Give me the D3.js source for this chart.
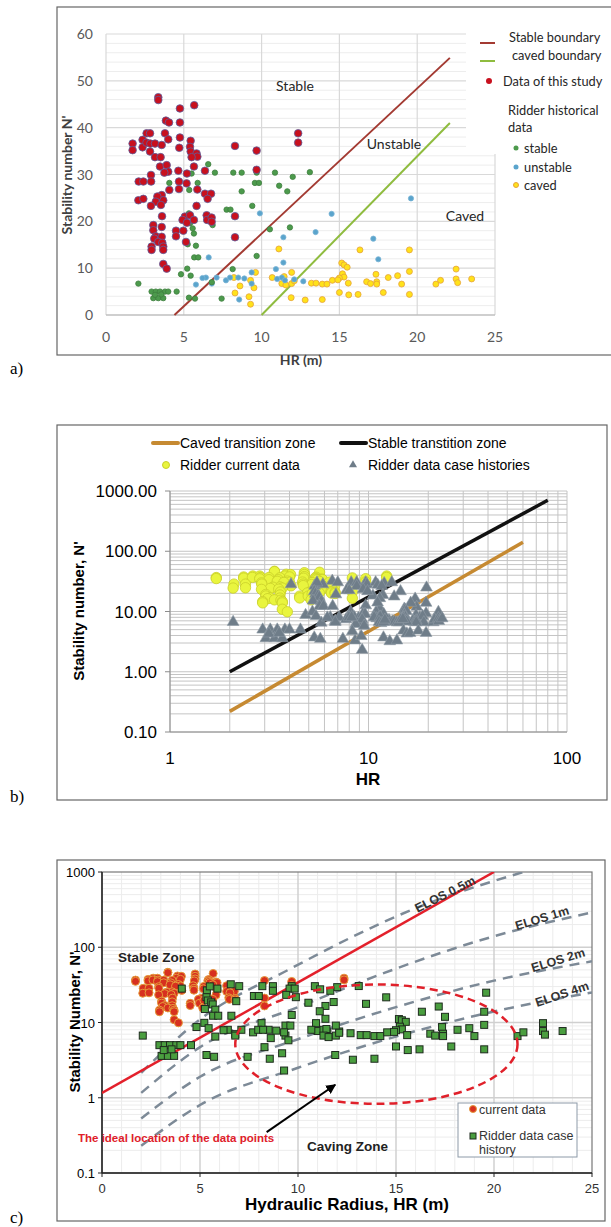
<!doctype html>
<html lang="en">
<head>
<meta charset="utf-8">
<title>Stability graph: three versions</title>
<script src="https://d3js.org/d3.v7.min.js"></script>
<style>
body { margin: 0; background: #fff; }
svg { display: block; }
</style>
</head>
<body>
<script>

// ---- data (HR in m, stability number N') ----
const currentData = [
  [3.36,46.5],[3.36,45.9],[4.75,44.1],[5.67,44.8],[3.85,41.5],[4.05,41.1],[4.75,41.1],
  [2.61,38.8],[2.83,38.8],[3.79,38.8],[1.71,36.6],[1.71,35.2],[2.35,37.4],[2.35,35.8],
  [2.6,36.8],[2.85,36.6],[3.15,36.6],[3.58,36.3],[4.0,37.5],[4.75,37.9],[5.44,37.2],
  [4.71,35.7],[2.83,34.9],[3.15,33.7],[3.51,33.7],[5.4,35.9],[5.44,34.9],[5.82,34.5],
  [5.87,33.8],[5.5,33.7],[3.47,31.7],[3.9,32.0],[4.0,30.6],[3.75,30.4],[5.65,31.7],
  [4.65,30.8],[5.2,30.2],[6.36,30.8],[8.29,36.1],[9.68,35.1],[9.68,31.0],[2.89,29.9],
  [2.1,28.5],[2.4,28.5],[2.9,28.5],[4.69,28.5],[5.18,28.1],[5.87,26.8],[4.07,26.7],
  [4.69,26.9],[6.36,25.9],[6.75,25.9],[6.53,24.8],[3.58,25.6],[3.68,24.5],[3.3,25.3],
  [3.2,24.2],[2.08,24.5],[2.4,24.8],[3.53,23.5],[2.89,23.3],[5.82,23.3],[3.6,21.1],
  [5.07,21.0],[4.92,20.3],[5.4,21.3],[5.65,20.3],[6.47,21.3],[6.5,20.3],[6.79,20.8],
  [6.79,19.9],[8.29,21.1],[3.04,19.2],[3.04,18.1],[3.2,16.8],[3.1,16.3],[3.58,18.8],
  [3.58,16.7],[4.5,18.0],[4.5,16.8],[4.97,18.0],[5.2,19.7],[3.36,15.6],[3.62,15.4],
  [5.14,15.6],[8.29,16.6],[2.93,14.6],[2.93,13.9],[3.68,14.6],[3.68,13.9],[3.68,10.9],
  [3.9,9.9],[12.35,38.8],[12.35,36.8]
];

const ridderStable = [
  [6.57,32.2],[7.0,30.4],[8.18,30.4],[8.72,30.4],[9.68,30.4],[9.57,28.2],[9.83,28.2],
  [10.86,30.4],[12.0,29.5],[11.13,27.6],[11.65,26.4],[13.1,30.5],[8.72,26.4],[4.07,28.2],
  [5.35,26.7],[5.89,28.2],[5.5,30.2],[7.75,22.5],[8.0,22.5],[9.4,23.3],[5.33,21.7],
  [5.4,19.6],[5.57,18.5],[5.65,17.4],[6.85,19.2],[5.25,15.1],[5.78,14.8],[5.67,12.3],
  [5.93,12.3],[9.68,12.6],[10.53,18.3],[11.82,18.7],[4.82,8.7],[5.22,9.9],[5.44,8.4],
  [2.08,6.7],[4.54,5.0],[8.14,9.8],[2.93,5.0],[3.2,5.0],[3.47,5.0],[3.79,5.0],[4.0,5.0],
  [3.04,3.6],[3.36,3.6],[3.68,3.6],[3.15,4.3],[3.55,4.4],[5.33,3.7],[5.72,3.5],[7.43,3.5],
  [6.8,7.0]
];

const ridderUnstable = [
  [9.89,21.7],[11.4,16.6],[11.4,11.2],[10.92,9.8],[6.6,12.3],[5.78,6.5],[6.42,8.0],
  [7.11,8.0],[6.8,6.7],[7.71,7.4],[7.97,8.0],[8.5,8.0],[8.89,7.8],[9.36,9.1],[9.36,6.7],
  [8.56,3.3],[11.0,7.7],[11.3,8.0],[11.5,7.4],[19.6,24.9],[14.5,21.6],[13.47,17.7],
  [17.18,16.3],[17.5,11.9],[12.68,7.2],[12.1,7.6],[6.2,7.9]
];

const ridderCaved = [
  [16.32,13.9],[19.5,13.9],[22.5,9.8],[15.15,11.1],[15.3,10.7],[15.5,10.2],[15.2,8.8],
  [15.3,8.1],[15.0,7.9],[19.5,9.3],[17.35,8.7],[18.14,8.0],[18.74,8.4],[19.0,6.6],
  [16.75,7.1],[17.0,6.7],[17.4,7.1],[17.4,6.6],[15.57,6.8],[13.2,6.8],[13.5,6.8],
  [13.9,6.6],[14.2,6.6],[14.55,7.4],[14.9,7.5],[21.2,6.6],[21.5,7.4],[22.5,7.7],
  [22.6,6.9],[23.5,7.7],[15.0,4.8],[15.6,4.3],[16.2,4.4],[17.82,4.8],[19.5,4.4],
  [11.9,3.7],[12.8,3.2],[13.9,3.3],[11.11,14.1],[9.61,9.1],[9.29,7.4],[8.61,6.2],
  [9.51,5.8],[8.29,4.7],[9.19,3.9],[9.29,2.3],[8.22,8.0],[10.68,8.0],[11.93,9.1],
  [11.45,8.2],[11.3,6.7],[11.56,6.4],[11.93,6.7],[12.1,7.3]
];

// boundary lines
const stableBoundary = [[4.4,0],[22.1,54.9]];
const cavedBoundary = [[10,0],[22.1,41]];
const cavedTransition = [[2,0.22],[60,141]];
const stableTransition = [[2,1],[80,700]];
const stabilityLine = [[0,1.16],[20,1000]];
const elosCurves = [
  {label: "ELOS 0.5m", pts: [[2,2.15],[5,11],[9.5,50],[16,330],[21.5,1000]]},
  {label: "ELOS 1m", pts: [[2,1.16],[5,4.7],[10,16],[15,52],[20,140],[25,290]]},
  {label: "ELOS 2m", pts: [[2,0.53],[5,1.9],[10,6],[15,16],[20,36],[25,65]]},
  {label: "ELOS 4m", pts: [[2,0.23],[5,0.8],[10,2.5],[15,6.5],[20,14],[25,25]]}
];
const idealZoneHR = [6.8, 21.2];
const idealZoneN = [0.83, 32];
const arrowFrom = [8.4, 0.35];
const arrowTo = [11.9, 1.49];

const ridderAll = ridderStable.concat(ridderUnstable, ridderCaved);

const svg = d3.select("body").append("svg")
  .attr("width", 611).attr("height", 1227);

svg.append("rect").attr("width", 611).attr("height", 1227).attr("fill", "#fff");

// panel frames and letters
const frames = [
  {x: 57, y: 7, w: 570, h: 348},
  {x: 57, y: 425, w: 550, h: 375},
  {x: 57, y: 860, w: 548, h: 361}
];
svg.selectAll("rect.frame").data(frames).enter().append("rect")
  .attr("class", "frame")
  .attr("x", d => d.x).attr("y", d => d.y)
  .attr("width", d => d.w).attr("height", d => d.h)
  .attr("fill", "none").attr("stroke", "#666").attr("stroke-width", 1.2);

svg.selectAll("text.letter").data([["a)", 374], ["b)", 802], ["c)", 1223]]).enter()
  .append("text").attr("class", "letter")
  .attr("x", 10).attr("y", d => d[1])
  .style("font-family", "Liberation Serif").style("font-size", "17px")
  .text(d => d[0]);

// ================= panel a =================
(function () {
  const g = svg.append("g");
  const x = d3.scaleLinear().domain([0, 25]).range([106, 495]);
  const y = d3.scaleLinear().domain([0, 60]).range([315, 34]);
  const font = "Lato, 'Open Sans', sans-serif";

  // minor horizontal grid
  g.selectAll("line.hmin").data(d3.range(2, 60, 2).filter(v => v % 10 != 0)).enter()
    .append("line").attr("x1", x(0)).attr("x2", x(25))
    .attr("y1", d => y(d)).attr("y2", d => y(d))
    .attr("stroke", "#ededed").attr("stroke-width", 1);
  g.selectAll("line.hmaj").data(d3.range(10, 61, 10)).enter()
    .append("line").attr("x1", x(0)).attr("x2", x(25))
    .attr("y1", d => y(d)).attr("y2", d => y(d))
    .attr("stroke", "#d9d9d9").attr("stroke-width", 1.2);
  g.selectAll("line.vmaj").data(d3.range(0, 26, 5)).enter()
    .append("line").attr("y1", y(0)).attr("y2", y(60))
    .attr("x1", d => x(d)).attr("x2", d => x(d))
    .attr("stroke", "#d9d9d9").attr("stroke-width", 1.2);
  g.append("line").attr("x1", x(0)).attr("x2", x(25))
    .attr("y1", y(0)).attr("y2", y(0)).attr("stroke", "#bfbfbf").attr("stroke-width", 1.5);

  // ticks
  g.selectAll("text.yt").data(d3.range(0, 61, 10)).enter().append("text")
    .attr("x", 93).attr("y", d => y(d) + 5).attr("text-anchor", "end")
    .style("font-family", font).style("font-size", "14px").attr("fill", "#595959")
    .text(d => d);
  g.selectAll("text.xt").data(d3.range(0, 26, 5)).enter().append("text")
    .attr("x", d => x(d)).attr("y", 342).attr("text-anchor", "middle")
    .style("font-family", font).style("font-size", "14px").attr("fill", "#595959")
    .text(d => d);

  g.append("text").attr("transform", "translate(72,175) rotate(-90)")
    .attr("text-anchor", "middle")
    .style("font-family", font).style("font-size", "14px").style("font-weight", "bold")
    .attr("fill", "#404040").text("Stability number N'");
  g.append("text").attr("x", 301).attr("y", 365).attr("text-anchor", "middle")
    .style("font-family", font).style("font-size", "14px").style("font-weight", "bold")
    .attr("fill", "#404040").text("HR (m)");

  // boundary lines
  const line = d3.line().x(d => x(d[0])).y(d => y(d[1]));
  g.append("path").attr("d", line(stableBoundary)).attr("fill", "none")
    .attr("stroke", "#a33a32").attr("stroke-width", 2);
  g.append("path").attr("d", line(cavedBoundary)).attr("fill", "none")
    .attr("stroke", "#8fbc3f").attr("stroke-width", 2);

  // points
  const dots = (data, r, fill, stroke) => g.append("g").selectAll("circle").data(data).enter()
    .append("circle").attr("cx", d => x(d[0])).attr("cy", d => y(d[1])).attr("r", r)
    .attr("fill", fill).attr("stroke", stroke).attr("stroke-width", 0.8);
  dots(ridderCaved, 3, "#ffe21a", "#e6a23c");
  dots(ridderUnstable, 2.6, "#5aa4cc", "#7ab4d6");
  dots(ridderStable, 2.7, "#4c9a4c", "#3f7f3f");
  dots(currentData, 3.8, "#c8101e", "#5b5fa0");

  // zone labels
  const lab = [["Stable", 295, 91], ["Unstable", 394, 149], ["Caved", 465, 221]];
  g.selectAll("text.zone").data(lab).enter().append("text")
    .attr("x", d => d[1]).attr("y", d => d[2]).attr("text-anchor", "middle")
    .style("font-family", font).style("font-size", "14px").attr("fill", "#262626")
    .text(d => d[0]);

  // legend
  const lg = g.append("g");
  lg.append("rect").attr("x", 466).attr("y", 20).attr("width", 145).attr("height", 134).attr("fill", "#fff");
  lg.append("line").attr("x1", 480).attr("x2", 495).attr("y1", 43).attr("y2", 43)
    .attr("stroke", "#a33a32").attr("stroke-width", 2);
  lg.append("line").attr("x1", 480).attr("x2", 495).attr("y1", 61).attr("y2", 61)
    .attr("stroke", "#8fbc3f").attr("stroke-width", 2);
  lg.append("circle").attr("cx", 489).attr("cy", 81).attr("r", 3).attr("fill", "#c8101e");
  lg.append("circle").attr("cx", 516).attr("cy", 148).attr("r", 2.5).attr("fill", "#4c9a4c");
  lg.append("circle").attr("cx", 516).attr("cy", 167).attr("r", 2.5).attr("fill", "#5aa4cc");
  lg.append("circle").attr("cx", 516).attr("cy", 185).attr("r", 2.5).attr("fill", "#ffe21a").attr("stroke", "#e6a23c");
  const lt = [["Stable boundary", 509, 42], ["caved boundary", 512, 60], ["Data of this study", 503, 86],
    ["Ridder historical", 508, 115], ["data", 508, 132], ["stable", 524, 153],
    ["unstable", 524, 172], ["caved", 524, 190]];
  lg.selectAll("text").data(lt).enter().append("text")
    .attr("x", d => d[1]).attr("y", d => d[2])
    .style("font-family", font).style("font-size", "12.8px").attr("fill", "#262626")
    .text(d => d[0]);
})();

// ================= panel b =================
(function () {
  const g = svg.append("g");
  const x = d3.scaleLog().domain([1, 100]).range([170, 567]);
  const y = d3.scaleLog().domain([0.1, 1000]).range([732, 491]);
  const font = "'Liberation Sans', Arial, sans-serif";

  const xg = [];
  [1, 10].forEach(dec => d3.range(1, 10).forEach(k => xg.push(dec * k)));
  xg.push(100);
  const yg = [];
  [0.1, 1, 10, 100].forEach(dec => d3.range(1, 10).forEach(k => yg.push(dec * k)));
  yg.push(1000);

  g.selectAll("line.v").data(xg).enter().append("line")
    .attr("x1", d => x(d)).attr("x2", d => x(d)).attr("y1", y(0.1)).attr("y2", y(1000))
    .attr("stroke", "#c4c4c4").attr("stroke-width", 1);
  g.selectAll("line.h").data(yg).enter().append("line")
    .attr("y1", d => y(d)).attr("y2", d => y(d)).attr("x1", x(1)).attr("x2", x(100))
    .attr("stroke", "#c4c4c4").attr("stroke-width", 1);
  // axes
  g.append("line").attr("x1", x(1)).attr("x2", x(1)).attr("y1", y(0.1)).attr("y2", y(1000))
    .attr("stroke", "#8c8c8c");
  g.append("line").attr("x1", x(1)).attr("x2", x(100)).attr("y1", y(0.1)).attr("y2", y(0.1))
    .attr("stroke", "#8c8c8c");
  const yt = [0.1, 1, 10, 100, 1000];
  g.selectAll("line.yt").data(yt).enter().append("line")
    .attr("x1", x(1) - 5).attr("x2", x(1)).attr("y1", d => y(d)).attr("y2", d => y(d))
    .attr("stroke", "#8c8c8c");
  g.selectAll("text.yt").data(yt).enter().append("text")
    .attr("x", 157).attr("y", d => y(d) + 6).attr("text-anchor", "end")
    .style("font-family", font).style("font-size", "17px").attr("fill", "#000")
    .text(d => d3.format(".2f")(d));
  g.selectAll("text.xt").data([1, 10, 100]).enter().append("text")
    .attr("x", d => x(d)).attr("y", 764).attr("text-anchor", "middle")
    .style("font-family", font).style("font-size", "17px").text(d => d);

  g.append("text").attr("transform", "translate(84,611) rotate(-90)")
    .attr("text-anchor", "middle")
    .style("font-family", font).style("font-size", "15px").style("font-weight", "bold")
    .text("Stability number, N'");
  g.append("text").attr("x", 368).attr("y", 785).attr("text-anchor", "middle")
    .style("font-family", font).style("font-size", "17px").style("font-weight", "bold")
    .text("HR");

  const line = d3.line().x(d => x(d[0])).y(d => y(d[1]));
  g.append("path").attr("d", line(stableTransition)).attr("fill", "none")
    .attr("stroke", "#111").attr("stroke-width", 3.5);
  g.append("path").attr("d", line(cavedTransition)).attr("fill", "none")
    .attr("stroke", "#c68a32").attr("stroke-width", 3.5);

  g.append("g").selectAll("circle").data(currentData).enter().append("circle")
    .attr("cx", d => x(d[0])).attr("cy", d => y(d[1])).attr("r", 5.2)
    .attr("fill", "#e9f53e").attr("stroke", "#c9cf2a").attr("stroke-width", 0.8);
  const tri = d3.symbol().type(d3.symbolTriangle).size(60);
  g.append("g").selectAll("path").data(ridderAll).enter().append("path")
    .attr("d", tri).attr("transform", d => `translate(${x(d[0])},${y(d[1])})`)
    .attr("fill", "#6f7d89").attr("stroke", "#8e9ba5").attr("stroke-width", 0.6);

  // legend
  g.append("line").attr("x1", 153).attr("x2", 178).attr("y1", 443).attr("y2", 443)
    .attr("stroke", "#c68a32").attr("stroke-width", 4).attr("stroke-linecap", "round");
  g.append("line").attr("x1", 341).attr("x2", 366).attr("y1", 443).attr("y2", 443)
    .attr("stroke", "#111").attr("stroke-width", 4).attr("stroke-linecap", "round");
  g.append("circle").attr("cx", 166).attr("cy", 465).attr("r", 3.5).attr("fill", "#e9f53e").attr("stroke", "#c9cf2a");
  g.append("path").attr("d", d3.symbol().type(d3.symbolTriangle).size(28))
    .attr("transform", "translate(353,465)").attr("fill", "#6f7d89");
  const lt = [["Caved transition zone", 180, 448], ["Stable transtition zone", 368, 448],
    ["Ridder current data", 180, 470], ["Ridder data case histories", 368, 470]];
  g.selectAll("text.lg").data(lt).enter().append("text")
    .attr("x", d => d[1]).attr("y", d => d[2])
    .style("font-family", font).style("font-size", "14px").text(d => d[0]);
})();

// ================= panel c =================
(function () {
  const g = svg.append("g");
  const x = d3.scaleLinear().domain([0, 25]).range([102, 592]);
  const y = d3.scaleLog().domain([0.1, 1000]).range([1173, 872]);
  const font = "'Liberation Sans', Arial, sans-serif";

  svg.append("defs").append("clipPath").attr("id", "clipc").append("rect")
    .attr("x", x(0)).attr("y", y(1000)).attr("width", x(25) - x(0)).attr("height", y(0.1) - y(1000));

  const yg = [];
  [0.1, 1, 10, 100].forEach(dec => d3.range(2, 10).forEach(k => yg.push(dec * k)));
  g.selectAll("line.hmin").data(yg).enter().append("line")
    .attr("x1", x(0)).attr("x2", x(25)).attr("y1", d => y(d)).attr("y2", d => y(d))
    .attr("stroke", "#ececec");
  g.selectAll("line.vmin").data(d3.range(1, 25).filter(v => v % 5 != 0)).enter().append("line")
    .attr("x1", d => x(d)).attr("x2", d => x(d)).attr("y1", y(0.1)).attr("y2", y(1000))
    .attr("stroke", "#ececec");
  g.selectAll("line.hmaj").data([1, 10, 100]).enter().append("line")
    .attr("x1", x(0)).attr("x2", x(25)).attr("y1", d => y(d)).attr("y2", d => y(d))
    .attr("stroke", "#d0d0d0").attr("stroke-width", 1.5);
  g.selectAll("line.vmaj").data([5, 10, 15, 20]).enter().append("line")
    .attr("x1", d => x(d)).attr("x2", d => x(d)).attr("y1", y(0.1)).attr("y2", y(1000))
    .attr("stroke", "#d0d0d0").attr("stroke-width", 1.5);
  g.append("rect").attr("x", x(0)).attr("y", y(1000)).attr("width", x(25) - x(0))
    .attr("height", y(0.1) - y(1000)).attr("fill", "none").attr("stroke", "#777").attr("stroke-width", 1.2);
  g.append("line").attr("x1", x(0)).attr("x2", x(0)).attr("y1", y(0.1)).attr("y2", y(1000))
    .attr("stroke", "#222").attr("stroke-width", 1.5);
  g.append("line").attr("x1", x(0)).attr("x2", x(25)).attr("y1", y(0.1)).attr("y2", y(0.1))
    .attr("stroke", "#222").attr("stroke-width", 1.5);

  const yt = [0.1, 1, 10, 100, 1000];
  g.selectAll("line.ytk").data(yt).enter().append("line")
    .attr("x1", x(0) - 4).attr("x2", x(0)).attr("y1", d => y(d)).attr("y2", d => y(d)).attr("stroke", "#222");
  g.selectAll("text.yt").data(yt).enter().append("text")
    .attr("x", 95).attr("y", d => y(d) + 5).attr("text-anchor", "end")
    .style("font-family", font).style("font-size", "13px").text(d => d);
  g.selectAll("line.xtk").data(d3.range(0, 26, 5)).enter().append("line")
    .attr("x1", d => x(d)).attr("x2", d => x(d)).attr("y1", y(0.1)).attr("y2", y(0.1) + 4).attr("stroke", "#222");
  g.selectAll("text.xt").data(d3.range(0, 26, 5)).enter().append("text")
    .attr("x", d => x(d)).attr("y", 1193).attr("text-anchor", "middle")
    .style("font-family", font).style("font-size", "13px").attr("fill", "#333").text(d => d);

  g.append("text").attr("transform", "translate(80,1022) rotate(-90)")
    .attr("text-anchor", "middle")
    .style("font-family", font).style("font-size", "15px").style("font-weight", "bold")
    .text("Stability Number, N'");
  g.append("text").attr("x", 347).attr("y", 1210).attr("text-anchor", "middle")
    .style("font-family", font).style("font-size", "17px").style("font-weight", "bold")
    .text("Hydraulic Radius, HR (m)");

  const pl = g.append("g").attr("clip-path", "url(#clipc)");
  const line = d3.line().x(d => x(d[0])).y(d => y(d[1]));
  const curve = d3.line().x(d => x(d[0])).y(d => y(d[1])).curve(d3.curveMonotoneX);
  pl.selectAll("path.elos").data(elosCurves).enter().append("path")
    .attr("d", d => curve(d.pts)).attr("fill", "none")
    .attr("stroke", "#7d8a97").attr("stroke-width", 2.5).attr("stroke-dasharray", "10,7");
  pl.append("path").attr("d", line(stabilityLine)).attr("fill", "none")
    .attr("stroke", "#e3202b").attr("stroke-width", 2.5);

  // points
  pl.append("g").selectAll("circle").data(currentData).enter().append("circle")
    .attr("cx", d => x(d[0])).attr("cy", d => y(d[1])).attr("r", 4)
    .attr("fill", "#d7301f").attr("stroke", "#e59a3a").attr("stroke-width", 1);
  pl.append("g").selectAll("rect").data(ridderAll).enter().append("rect")
    .attr("x", d => x(d[0]) - 3.5).attr("y", d => y(d[1]) - 3.5).attr("width", 7).attr("height", 7)
    .attr("fill", "#4a9e3f").attr("stroke", "#1e2b1e").attr("stroke-width", 1);

  // ideal zone ellipse
  const cx = (x(idealZoneHR[0]) + x(idealZoneHR[1])) / 2;
  const cy = (y(idealZoneN[0]) + y(idealZoneN[1])) / 2;
  pl.append("ellipse").attr("cx", cx).attr("cy", cy)
    .attr("rx", (x(idealZoneHR[1]) - x(idealZoneHR[0])) / 2)
    .attr("ry", (y(idealZoneN[0]) - y(idealZoneN[1])) / 2)
    .attr("fill", "none").attr("stroke", "#e0202a").attr("stroke-width", 2.5)
    .attr("stroke-dasharray", "8,5");

  // arrow
  svg.select("defs").append("marker").attr("id", "arr")
    .attr("viewBox", "0 0 10 10").attr("refX", 9).attr("refY", 5)
    .attr("markerWidth", 5).attr("markerHeight", 5).attr("orient", "auto")
    .append("path").attr("d", "M0,0L10,5L0,10z").attr("fill", "#000");
  g.append("line").attr("x1", x(arrowFrom[0])).attr("y1", y(arrowFrom[1]))
    .attr("x2", x(arrowTo[0])).attr("y2", y(arrowTo[1]))
    .attr("stroke", "#000").attr("stroke-width", 2).attr("marker-end", "url(#arr)");

  // labels
  g.append("text").attr("x", 118).attr("y", 962)
    .style("font-family", font).style("font-size", "13.5px").style("font-weight", "bold")
    .attr("fill", "#222").text("Stable Zone");
  g.append("text").attr("x", 307).attr("y", 1151)
    .style("font-family", font).style("font-size", "13.5px").style("font-weight", "bold")
    .attr("fill", "#222").text("Caving Zone");
  g.append("text").attr("x", 78).attr("y", 1142)
    .style("font-family", font).style("font-size", "11.5px").style("font-weight", "bold")
    .attr("fill", "#e0202a").text("The ideal location of the data points");

  const elosLab = [["ELOS 0.5m", 445, 894, -26.5], ["ELOS 1m", 542, 918, -17],
    ["ELOS 2m", 558, 960, -17], ["ELOS 4m", 562, 994, -18.5]];
  g.selectAll("text.elos").data(elosLab).enter().append("text")
    .attr("transform", d => `translate(${d[1]},${d[2]}) rotate(${d[3]})`)
    .attr("text-anchor", "middle").attr("dy", "0.35em")
    .style("font-family", font).style("font-size", "12.5px").style("font-weight", "bold")
    .attr("fill", "#333").text(d => d[0]);

  // legend
  g.append("rect").attr("x", 458).attr("y", 1103).attr("width", 119).attr("height", 54)
    .attr("fill", "#fff").attr("stroke", "#8d9aa8");
  g.append("circle").attr("cx", 473).attr("cy", 1109).attr("r", 3.5).attr("fill", "#d7301f").attr("stroke", "#e59a3a");
  g.append("rect").attr("x", 470).attr("y", 1133).attr("width", 6).attr("height", 6)
    .attr("fill", "#4a9e3f").attr("stroke", "#1e2b1e");
  const lt = [["current data", 479, 1114], ["Ridder data case", 479, 1140], ["history", 479, 1154]];
  g.selectAll("text.lg").data(lt).enter().append("text")
    .attr("x", d => d[1]).attr("y", d => d[2])
    .style("font-family", font).style("font-size", "12.5px").attr("fill", "#333").text(d => d[0]);
})();

</script>
</body>
</html>
